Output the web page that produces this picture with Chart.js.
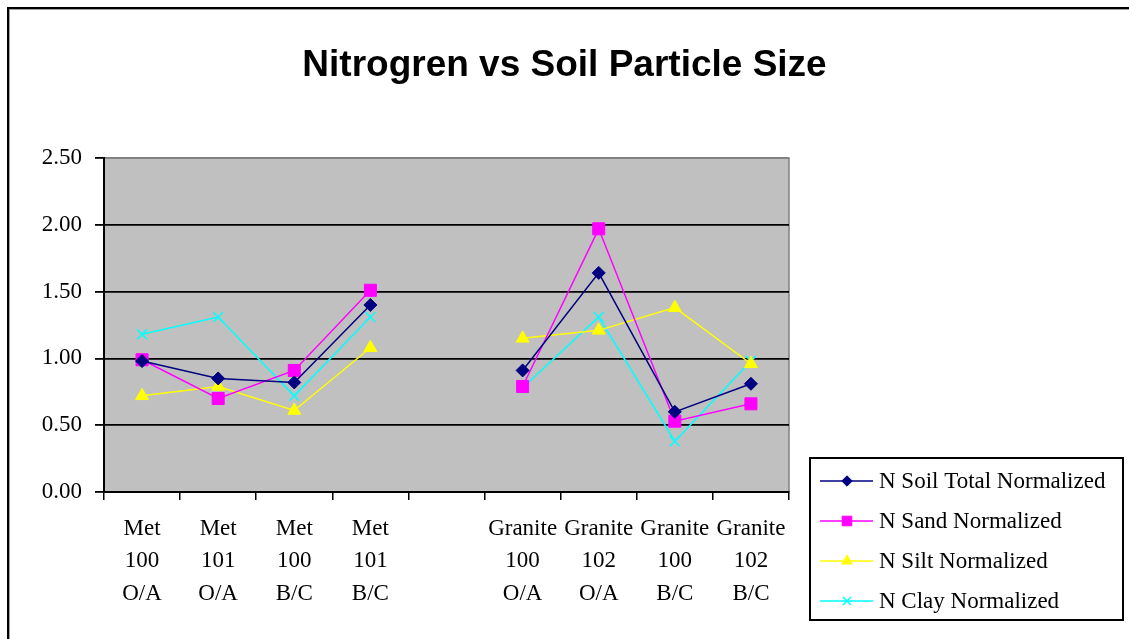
<!DOCTYPE html>
<html>
<head>
<meta charset="utf-8">
<script src="https://cdn.jsdelivr.net/npm/chart.js"></script>
<style>
  html, body { margin: 0; padding: 0; background: #fff; overflow: hidden; }
  #wrap { position: relative; width: 1129px; height: 639px; }
  #frame {
    position: absolute; left: 7px; top: 7px; width: 1400px; height: 900px;
    border-left: 2px solid #000; border-top: 2px solid #000;
    box-shadow: inset 1px 1px 0 #a0a0a0;
  }
  #soilChart { position: absolute; left: 0; top: 0; }
</style>
</head>
<body>
<div id="wrap">
  <div id="frame"></div>
  <canvas id="soilChart" width="1129" height="639"></canvas>
</div>
<script>
// muestras (la quinta columna queda vacía para separar Met de Granite)
const sites = [
  ['Met', '100', 'O/A'],
  ['Met', '101', 'O/A'],
  ['Met', '100', 'B/C'],
  ['Met', '101', 'B/C'],
  '',
  ['Granite', '100', 'O/A'],
  ['Granite', '102', 'O/A'],
  ['Granite', '100', 'B/C'],
  ['Granite', '102', 'B/C']
];

const soilTotal = [0.98, 0.85, 0.82, 1.40, null, 0.91, 1.64, 0.60, 0.81];
const sandN     = [0.99, 0.70, 0.91, 1.51, null, 0.79, 1.97, 0.53, 0.66];
const siltN     = [0.72, 0.79, 0.61, 1.08, null, 1.15, 1.21, 1.38, 0.96];
const clayN     = [1.18, 1.31, 0.72, 1.31, null, 0.78, 1.31, 0.38, 0.98];

const seriesNames = ['N Soil Total Normalized', 'N Sand Normalized', 'N Silt Normalized', 'N Clay Normalized'];
const yTicks = [0, 0.5, 1, 1.5, 2, 2.5];

const serif = '"Liberation Serif", "Times New Roman", serif';
Chart.defaults.color = '#000';

function serie(label, data, color, style, radius) {
  return {
    label,
    data,
    borderColor: color,
    backgroundColor: color,
    borderWidth: 1.5,
    pointStyle: style,
    pointRadius: radius,
    pointHoverRadius: radius,
    pointBorderWidth: style === 'crossRot' ? 1.5 : 1,
    spanGaps: false,
    tension: 0
  };
}

// fondo gris del área de trazado y su borde
const plotBg = {
  id: 'plotBg',
  beforeDraw(chart) {
    const { ctx, chartArea: a } = chart;
    ctx.save();
    ctx.fillStyle = '#c0c0c0';
    ctx.fillRect(a.left, a.top, a.right - a.left, a.bottom - a.top);
    ctx.strokeStyle = '#808080';
    ctx.lineWidth = 1.5;
    ctx.strokeRect(a.left, a.top, a.right - a.left, a.bottom - a.top);
    ctx.restore();
  }
};

// leyenda con recuadro, línea y marcador
const boxLegend = {
  id: 'boxLegend',
  afterDraw(chart) {
    const { ctx } = chart;
    const left = 810, top = 458, w = 313, h = 162, rowH = 40;
    ctx.save();
    ctx.fillStyle = '#fff';
    ctx.fillRect(left, top, w, h);
    ctx.strokeStyle = '#000';
    ctx.lineWidth = 2;
    ctx.strokeRect(left, top, w, h);
    ctx.font = '23px ' + serif;
    ctx.textBaseline = 'middle';
    ctx.textAlign = 'left';
    chart.data.datasets.forEach((ds, i) => {
      const y = top + 23 + i * rowH;
      ctx.strokeStyle = ds.borderColor;
      ctx.lineWidth = 1.5;
      ctx.beginPath();
      ctx.moveTo(left + 10, y);
      ctx.lineTo(left + 63, y);
      ctx.stroke();
      ctx.fillStyle = ds.backgroundColor;
      ctx.lineWidth = ds.pointBorderWidth;
      Chart.helpers.drawPoint(ctx, {
        pointStyle: ds.pointStyle,
        radius: ds.pointRadius * 0.8,
        borderWidth: ds.pointBorderWidth,
        rotation: 0
      }, left + 37, y);
      ctx.fillStyle = '#000';
      ctx.fillText(ds.label, left + 69, y + 1);
    });
    ctx.restore();
  }
};

new Chart(document.getElementById('soilChart'), {
  type: 'line',
  data: {
    labels: sites,
    datasets: [
      serie(seriesNames[0], soilTotal, '#000080', 'rectRot', 6.5),
      serie(seriesNames[1], sandN, '#ff00ff', 'rect', 8.5),
      serie(seriesNames[2], siltN, '#ffff00', 'triangle', 7.5),
      serie(seriesNames[3], clayN, '#00ffff', 'crossRot', 7)
    ]
  },
  options: {
    responsive: false,
    animation: false,
    layout: { padding: 0 },
    plugins: {
      legend: { display: false },
      tooltip: { enabled: false },
      title: {
        display: true,
        text: 'Nitrogren vs Soil Particle Size',
        color: '#000',
        font: { family: '"Liberation Sans", Arial, sans-serif', size: 37, weight: 'bold', lineHeight: 1.2 },
        padding: { top: 44, bottom: 69.6 }
      }
    },
    scales: {
      x: {
        offset: true,
        grid: {
          offset: true,
          drawOnChartArea: false,
          tickLength: 8,
          tickColor: '#000',
          lineWidth: 1.5
        },
        border: { color: '#000', width: 2 },
        ticks: {
          autoSkip: false,
          maxRotation: 0,
          padding: 13,
          font: { family: serif, size: 23, lineHeight: 1.4 }
        },
        afterFit(scale) { scale.height = 147; }
      },
      y: {
        min: yTicks[0],
        max: yTicks[yTicks.length - 1],
        afterBuildTicks(scale) { scale.ticks = yTicks.map(v => ({ value: v })); },
        grid: {
          color: c => (c.tick && c.tick.value === 2.5 ? '#808080' : '#000'),
          tickColor: '#000',
          tickLength: 9,
          lineWidth: 1.8
        },
        border: { color: '#000', width: 2 },
        ticks: {
          padding: 13,
          font: { family: serif, size: 23 },
          callback: v => Number(v).toFixed(2)
        },
        afterFit(scale) { scale.width = 104; }
      },
      // espacio vacío a la derecha donde va la leyenda
      side: {
        type: 'linear',
        position: 'right',
        grid: { display: false },
        border: { display: false },
        ticks: { display: false },
        afterFit(scale) { scale.width = 340; }
      }
    }
  },
  plugins: [plotBg, boxLegend]
});
</script>
</body>
</html>
